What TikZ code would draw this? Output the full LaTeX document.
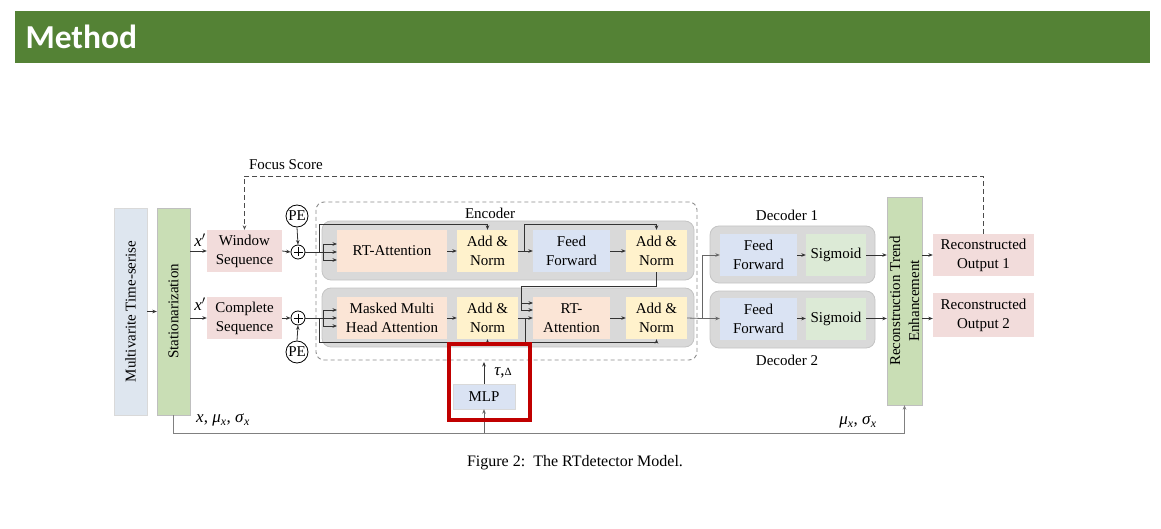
\documentclass[tikz,border=0pt]{standalone}
\usepackage{fontspec}
\setmainfont{Liberation Serif}
\newfontfamily\hdrfont{Carlito}
\usetikzlibrary{arrows.meta,calc}
\definecolor{hdrgreen}{HTML}{548235}
\definecolor{mtsblue}{HTML}{DEE6EF}
\definecolor{statgreen}{HTML}{C9DEB5}
\definecolor{pinkbox}{HTML}{F2DCDB}
\definecolor{peach}{HTML}{FBE5D6}
\definecolor{ylw}{HTML}{FFF2CC}
\definecolor{ffblue}{HTML}{DAE3F3}
\definecolor{siggreen}{HTML}{DCEAD6}
\definecolor{layergray}{HTML}{D9D9D9}
\definecolor{layerborder}{HTML}{C4C4C4}
\definecolor{redbox}{HTML}{C00000}
\begin{document}
\begin{tikzpicture}[x=1pt,y=-1pt,
  every node/.style={font=\fontsize{15}{19}\selectfont},
  mathlbl/.style={font=\fontsize{17}{19}\selectfont},
  blk/.style={draw=none, align=center, inner sep=0pt, minimum height=42pt},
  arr/.style={-{Stealth[length=4.5pt,width=3.6pt]}, line width=0.8pt, draw=black!80},
  ln/.style={line width=0.8pt, draw=black!80},
  layer/.style={fill=layergray, draw=layerborder, rounded corners=9pt, line width=0.8pt},
  circ/.style={circle, draw, line width=0.8pt, inner sep=0pt, fill=white}]
\useasboundingbox (0,0) rectangle (1161,529);
% header
\fill[hdrgreen] (15,11) rectangle (1150,63);
\node[anchor=west, text=white, font=\hdrfont\bfseries\fontsize{33.5}{34}\selectfont] (title) at (22,37) {Method};

% containers
\draw[dashed, dash pattern=on 4pt off 3pt, draw=black!45, line width=0.9pt, rounded corners=8pt] (316,202) rectangle (697,360);
\node (enclbl) at (490,213) {Encoder};
\draw[layer] (322,221) rectangle (694,280);
\draw[layer] (322,288) rectangle (694,347);
\draw[layer] (710,226) rectangle (875,283);
\draw[layer] (710,291) rectangle (875,348);
\node (dec1lbl) at (787,215) {Decoder 1};
\node (dec2lbl) at (787,360) {Decoder 2};

% left columns
\node[blk, fill=mtsblue, draw=black!15, minimum width=33pt, minimum height=207pt] (mts) at (130.5,311.5) {};
\node[rotate=90] (mtstxt) at (mts) {Multivarite Time-serise};
\node[blk, fill=statgreen, draw=black!25, minimum width=33pt, minimum height=207pt] (stat) at (173.5,311.5) {};
\node[rotate=90] (stattxt) at (stat) {Stationarization};

\node[blk, fill=pinkbox, minimum width=75pt] (ws) at (244.5,251) {Window\\Sequence};
\node[blk, fill=pinkbox, minimum width=75pt] (cs) at (244.5,318) {Complete\\Sequence};

\node[circ, minimum size=14pt] (plus1) at (298,252) {};
\node[circ, minimum size=14pt] (plus2) at (298,318) {};
\draw[line width=0.8pt] ($(plus1)+(-4.5,0)$) -- ($(plus1)+(4.5,0)$) ($(plus1)+(0,-4.5)$) -- ($(plus1)+(0,4.5)$);
\draw[line width=0.8pt] ($(plus2)+(-4.5,0)$) -- ($(plus2)+(4.5,0)$) ($(plus2)+(0,-4.5)$) -- ($(plus2)+(0,4.5)$);
\node[circ, minimum size=22pt] (pe1) at (297,216) {PE};
\node[circ, minimum size=22pt] (pe2) at (297,352) {PE};

% encoder blocks
\node[blk, fill=peach, minimum width=110pt] (rta1) at (392,251) {RT-Attention};
\node[blk, fill=ylw, minimum width=61pt] (an1) at (487.5,251) {Add \&\\Norm};
\node[blk, fill=ffblue, minimum width=77pt] (ff1) at (571.5,251) {Feed\\Forward};
\node[blk, fill=ylw, minimum width=61pt] (an2) at (656.5,251) {Add \&\\Norm};
\node[blk, fill=peach, minimum width=110pt] (mmha) at (392,318) {Masked Multi\\Head Attention};
\node[blk, fill=ylw, minimum width=61pt] (an3) at (487.5,318) {Add \&\\Norm};
\node[blk, fill=peach, minimum width=77pt] (rta2) at (571.5,318) {RT-\\Attention};
\node[blk, fill=ylw, minimum width=61pt] (an4) at (656.5,318) {Add \&\\Norm};

% decoder blocks
\node[blk, fill=ffblue, minimum width=77pt] (dff1) at (758.5,255) {Feed\\Forward};
\node[blk, fill=siggreen, minimum width=60pt] (sig1) at (836,255) {Sigmoid};
\node[blk, fill=ffblue, minimum width=77pt] (dff2) at (758.5,318.5) {Feed\\Forward};
\node[blk, fill=siggreen, minimum width=60pt] (sig2) at (836,318.5) {Sigmoid};

% RTE and outputs
\node[blk, fill=statgreen, draw=black!25, minimum width=35pt, minimum height=208pt] (rte) at (904.5,301) {};
\node[rotate=90, align=center] (rtetxt) at (rte) {Reconstruction Trend\\Enhancement};
\node[blk, fill=pinkbox, minimum width=101pt] (out1) at (983.5,255) {Reconstructed\\Output 1};
\node[blk, fill=pinkbox, minimum width=101pt, minimum height=44pt] (out2) at (983.5,315) {Reconstructed\\Output 2};

% MLP
\node[blk, fill=ffblue, draw=black!15, minimum width=62pt, minimum height=25pt] (mlp) at (484,396.5) {MLP};

% connectors: left part
\draw[arr] (mts.east) -- (stat.west);
\draw[arr] (stat.east |- ws.west) -- (ws.west);
\draw[arr] (stat.east |- cs.west) -- (cs.west);
\node[mathlbl] (xp1) at (200,240) {\textit{x}$'$};
\node[mathlbl] (xp2) at (200,304) {\textit{x}$'$};
\draw[arr] (ws.east) -- (plus1.west);
\draw[arr] (cs.east) -- (plus2.west);
\draw[arr] (pe1.south) -- (plus1.north);
\draw[arr] (pe2.north) -- (plus2.south);

% encoder row 1
\coordinate (b1) at (323,252);
\draw[ln] (plus1.east) -- (b1);
\draw[ln] (323,244) -- (323,260);
\foreach \yy in {244,252,260} \draw[arr] (323,\yy) -- (337,\yy);
\draw[arr] (319,252) |- (487.5,224) -- (an1.north);
\draw[arr] (rta1.east) -- (an1.west);
\draw[arr] (an1.east) -- (ff1.west);
\draw[arr] (524,251) |- (656.5,224) -- (an2.north);
\draw[arr] (ff1.east) -- (an2.west);

% encoder row 2
\coordinate (b2) at (323,318);
\draw[ln] (plus2.east) -- (b2);
\draw[ln] (323,310) -- (323,326);
\foreach \yy in {310,318,326} \draw[arr] (323,\yy) -- (337,\yy);
\draw[arr] (319,318) |- (487.5,342) -- (an3.south);
\draw[arr] (mmha.east) -- (an3.west);
\draw[ln] (an2.south) -- (656.5,286) -| (521,310);
\draw[arr] (521,303) -- (533,303);
\draw[arr] (521,310) -- (533,310);
\draw[arr] (an3.east) -- (rta2.west);
\draw[arr] (525,318) |- (656.5,342) -- (an4.south);
\draw[arr] (rta2.east) -- (an4.west);

% to decoders
\coordinate (sp) at (702,318.5);
\draw[line width=0.8pt, draw=black!60] (an4.east) -- (sp);
\draw[arr, draw=black!60] (sp) -- (dff2.west);
\draw[arr, draw=black!60] (sp) |- (dff1.west);
\draw[arr] (dff1.east) -- (sig1.west);
\draw[arr] (dff2.east) -- (sig2.west);
\draw[arr] (sig1.east) -- (rte.west |- sig1);
\draw[arr] (sig2.east) -- (rte.west |- sig2);
\draw[arr] (rte.east |- sig1) -- (out1.west |- sig1);
\draw[arr] (rte.east |- sig2) -- (out2.west |- sig2);

% focus score
\draw[arr, dash pattern=on 5pt off 3pt, draw=black!70] (out1.north) -- (983.5,176) -| (ws.north);
\node (fs) at (286,165) {Focus Score};

% MLP and bottom line
\draw[arr] (mlp.north) -- (484,362);
\node[mathlbl] (tau) at (503,373) {\textit{τ},{\fontsize{11}{11}\selectfont Δ}};
\draw[arr, line width=1pt, draw=black!50] (stat.south) -- (173.5,433) -| (rte.south);
\draw[arr, draw=black!60] (484,433) -- (mlp.south);
\node[mathlbl] (lblx) at (223,420) {\textit{x}, \textit{μ}\textsubscript{\textit{x}}, \textit{σ}\textsubscript{\textit{x}}};
\node[mathlbl] (lblmu) at (858,422) {\textit{μ}\textsubscript{\textit{x}}, \textit{σ}\textsubscript{\textit{x}}};

% highlight
\draw[draw=redbox, line width=3.5pt] (449,344) rectangle (530,420);

% caption
\node[font=\fontsize{16}{19}\selectfont] (cap) at (575,463) {Figure 2:\ \ The RTdetector Model.};
\end{tikzpicture}
\end{document}
